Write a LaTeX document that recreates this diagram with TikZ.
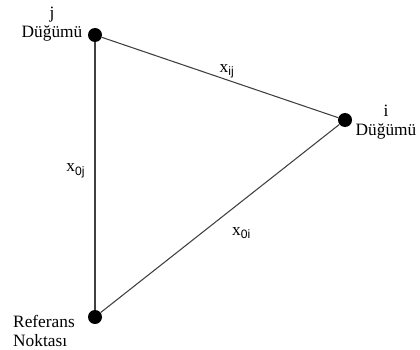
\documentclass[tikz,border=0pt]{standalone}
\usepackage{fontspec}
\setmainfont{Liberation Serif}
\setsansfont{Liberation Sans}
\usetikzlibrary{positioning}

\begin{document}
\begin{tikzpicture}[
        x=0.75pt, y=-0.75pt,
        dot/.style={circle, fill=black, inner sep=0pt, minimum size=10.5pt},
        edge/.style={draw=black!75, line width=0.8pt},
        lbl/.style={font=\fontsize{13}{14}\selectfont, inner sep=0pt, align=center},
        sub/.style={font=\fontsize{13}{14}\selectfont, inner sep=1pt}
    ]
        \useasboundingbox (0,0) rectangle (420,349);
        % Nodes
        \node (nj) [dot] at (95,35) {};
        \node (ni) [dot] at (345,120) {};
        \node (ref) [dot] at (95,317) {};
        \node (jlab) [lbl] at (52,24) {j\\Düğümü};
        \node (ilab) [lbl] at (386,122) {i\\Düğümü};
        \node (reflab) [lbl, align=left] at (44,331) {Referans\\Noktası};

        % Paths
        \draw [edge] (nj) -- (ni) node[sub, pos=0.53, above=0pt] {x\textsubscript{\sffamily ij}};
        \draw [edge] (nj) -- (ref) node[sub, pos=0.48, left=6pt] {x\textsubscript{\sffamily 0j}};
        \draw [edge] (ref) -- (ni) node[sub, pos=0.59, below=18pt] {x\textsubscript{\sffamily 0i}};
    \end{tikzpicture}
\end{document}
